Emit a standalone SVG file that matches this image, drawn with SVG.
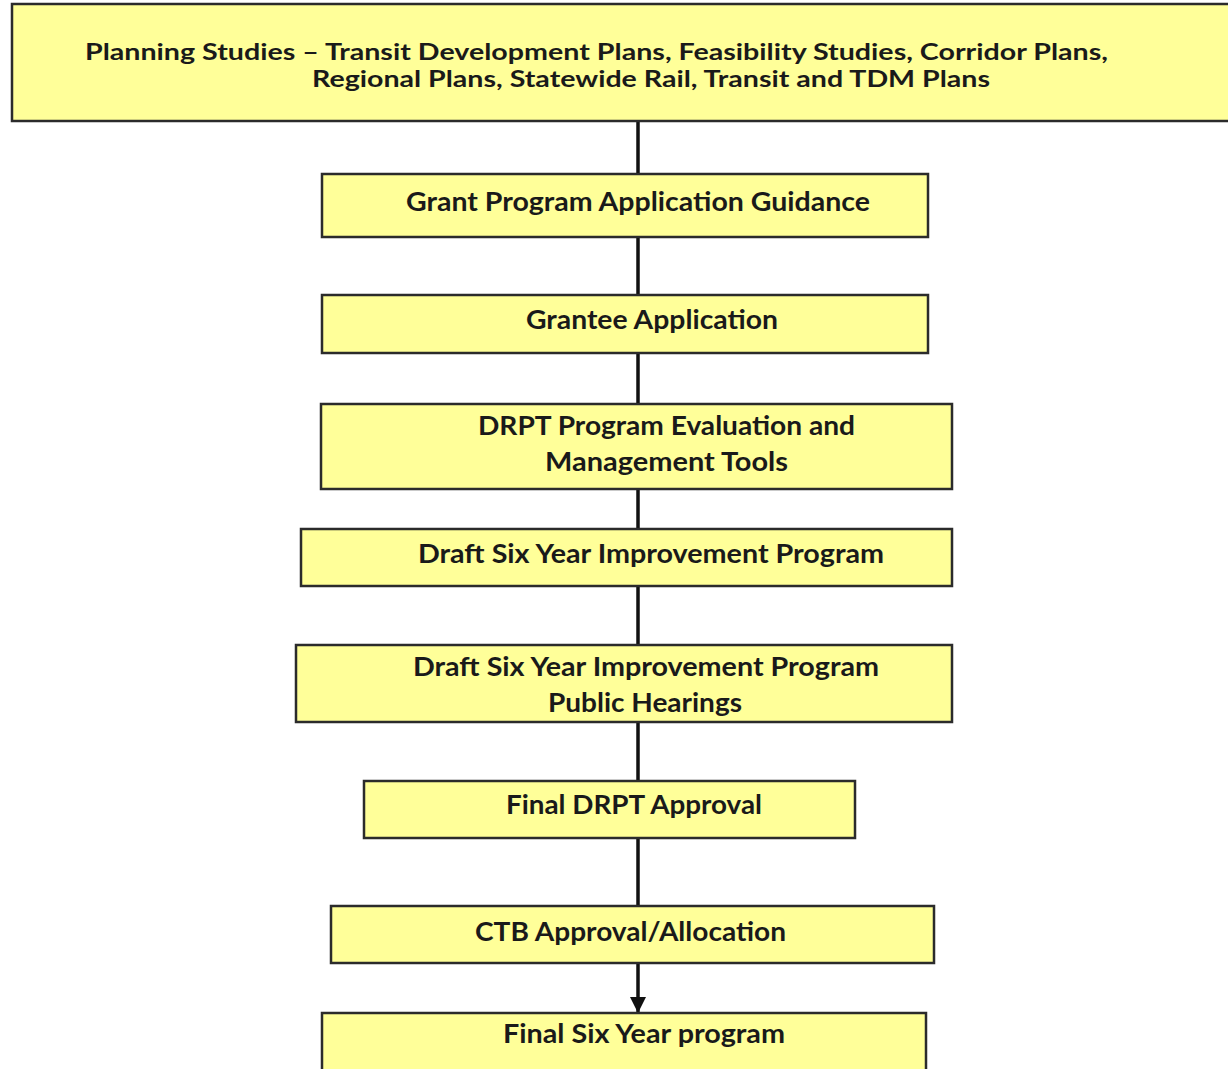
<svg xmlns="http://www.w3.org/2000/svg" width="1228" height="1069" viewBox="0 0 1228 1069">
<defs>
<style>
.box{fill:#FFFF99;stroke:#2b2b2b;stroke-width:2.5}
.t{font-family:Lato,"Open Sans","Liberation Sans",sans-serif;font-weight:bold;font-size:26px;fill:#1a1a1a}
.s{font-size:23px}
.c{stroke:#111;stroke-width:3.5;fill:none}
</style>
<marker id="ah" markerUnits="userSpaceOnUse" markerWidth="16" markerHeight="16" viewBox="0 0 16 16" refX="15" refY="8" orient="auto">
<path d="M0,0 L16,8 L0,16 z" fill="#111"/>
</marker>
</defs>
<rect width="1228" height="1069" fill="#ffffff"/>
<g id="connectors">
<line class="c" x1="638" y1="121" x2="638" y2="174"/>
<line class="c" x1="638" y1="237" x2="638" y2="295"/>
<line class="c" x1="638" y1="353" x2="638" y2="404"/>
<line class="c" x1="638" y1="489" x2="638" y2="529"/>
<line class="c" x1="638" y1="586" x2="638" y2="645"/>
<line class="c" x1="638" y1="722" x2="638" y2="781"/>
<line class="c" x1="638" y1="838" x2="638" y2="906"/>
<line class="c" x1="638" y1="963" x2="638" y2="1012" marker-end="url(#ah)"/>
</g>
<g id="planning">
<rect class="box" x="12" y="4" width="1220" height="117"/>
<text class="t s" x="85" y="60" textLength="1023" lengthAdjust="spacingAndGlyphs">Planning Studies – Transit Development Plans, Feasibility Studies, Corridor Plans,</text>
<text class="t s" x="312" y="87" textLength="678" lengthAdjust="spacingAndGlyphs">Regional Plans, Statewide Rail, Transit and TDM Plans</text>
</g>
<g id="guidance">
<rect class="box" x="322" y="174" width="606" height="63"/>
<text class="t" x="406" y="211" textLength="464" lengthAdjust="spacingAndGlyphs">Grant Program Application Guidance</text>
</g>
<g id="grantee">
<rect class="box" x="322" y="295" width="606" height="58"/>
<text class="t" x="526" y="329" textLength="252" lengthAdjust="spacingAndGlyphs">Grantee Application</text>
</g>
<g id="evaluation">
<rect class="box" x="321" y="404" width="631" height="85"/>
<text class="t" x="478" y="435" textLength="377" lengthAdjust="spacingAndGlyphs">DRPT Program Evaluation and</text>
<text class="t" x="545" y="471" textLength="243" lengthAdjust="spacingAndGlyphs">Management Tools</text>
</g>
<g id="draft">
<rect class="box" x="301" y="529" width="651" height="57"/>
<text class="t" x="418" y="563" textLength="466" lengthAdjust="spacingAndGlyphs">Draft Six Year Improvement Program</text>
</g>
<g id="hearings">
<rect class="box" x="296" y="645" width="656" height="77"/>
<text class="t" x="413" y="676" textLength="466" lengthAdjust="spacingAndGlyphs">Draft Six Year Improvement Program</text>
<text class="t" x="548" y="712" textLength="194" lengthAdjust="spacingAndGlyphs">Public Hearings</text>
</g>
<g id="final-drpt">
<rect class="box" x="364" y="781" width="491" height="57"/>
<text class="t" x="506" y="814" textLength="256" lengthAdjust="spacingAndGlyphs">Final DRPT Approval</text>
</g>
<g id="ctb">
<rect class="box" x="331" y="906" width="603" height="57"/>
<text class="t" x="475" y="941" textLength="311" lengthAdjust="spacingAndGlyphs">CTB Approval/Allocation</text>
</g>
<g id="final-six">
<rect class="box" x="322" y="1013" width="604" height="70"/>
<text class="t" x="503" y="1043" textLength="282" lengthAdjust="spacingAndGlyphs">Final Six Year program</text>
</g>
</svg>
